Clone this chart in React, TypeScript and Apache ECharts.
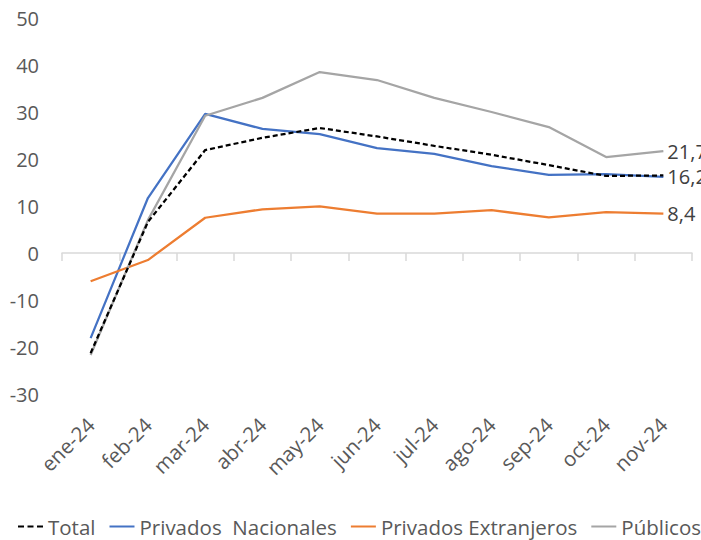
import React, { useEffect, useRef } from "react";
import * as echarts from "echarts";

const categories = ["ene-24", "feb-24", "mar-24", "abr-24", "may-24", "jun-24", "jul-24", "ago-24", "sep-24", "oct-24", "nov-24"];
const total = [-21.3, 6.6, 21.9, 24.5, 26.6, 24.8, 22.8, 20.9, 18.7, 16.4, 16.5];
const privadosNacionales = [-18.1, 11.7, 29.6, 26.4, 25.3, 22.3, 21.1, 18.5, 16.6, 16.8, 16.2];
const privadosExtranjeros = [-6.0, -1.5, 7.5, 9.3, 9.9, 8.4, 8.4, 9.1, 7.6, 8.7, 8.4];
const publicos = [-21.7, 7.0, 29.2, 33.0, 38.5, 36.8, 33.0, 30.0, 26.8, 20.4, 21.7];
const seriesNames = ["Total", "Privados  Nacionales", "Privados Extranjeros", "Públicos"];
const yMin = -30;
const yMax = 50;
const yStep = 10;

const FONT = "Open Sans";
const DASH_ICON = "path://M0,0h6v2h-6z M9.5,0h6v2h-6z M19,0h6v2h-6z";
const LINE_ICON = "path://M0,0h25v2h-25z";

export default function App() {
  const ref = useRef<HTMLDivElement>(null);
  useEffect(() => {
    if (!ref.current) return;
    const chart = echarts.init(ref.current, undefined, { renderer: "svg" });
    const endLabel = (show: boolean) => ({
      show,
      formatter: (p: any) => String(p.value).replace(".", ","),
      distance: 4,
      fontFamily: FONT,
      fontSize: 20,
      color: "#404040",
    });
    const mk = (name: string, data: number[], color: string, dashed: boolean, labelled: boolean) => ({
      name,
      type: "line",
      data,
      showSymbol: false,
      symbol: "none",
      xAxisIndex: 0,
      lineStyle: { color, width: 2.25, type: dashed ? [5, 3] : "solid" },
      itemStyle: { color },
      endLabel: endLabel(labelled),
      z: dashed ? 5 : 3,
    });
    chart.setOption({
      animation: false,
      grid: { left: 62, right: 9, top: 18, bottom: 146, containLabel: false },
      legend: {
        bottom: 3,
        left: 18,
        width: 690,
        padding: 0,
        itemWidth: 25,
        itemHeight: 2,
        itemGap: 14,
        textStyle: { fontFamily: FONT, fontSize: 20.5, color: "#595959" },
        data: [
          { name: seriesNames[0], icon: DASH_ICON },
          { name: seriesNames[1], icon: LINE_ICON },
          { name: seriesNames[2], icon: LINE_ICON },
          { name: seriesNames[3], icon: LINE_ICON },
        ],
      },
      xAxis: [
        {
          type: "category",
          data: categories,
          position: "bottom",
          boundaryGap: true,
          axisLine: { show: true, onZero: true, lineStyle: { color: "#d9d9d9", width: 1.5 } },
          axisTick: { show: true, length: 8, lineStyle: { color: "#d9d9d9", width: 1.5 } },
          axisLabel: { show: false },
          splitLine: { show: false },
        },
        {
          type: "category",
          data: categories,
          position: "bottom",
          boundaryGap: true,
          axisLine: { show: false, onZero: false },
          axisTick: { show: false },
          axisLabel: {
            show: true,
            rotate: 45,
            margin: 27,
            interval: 0,
            fontFamily: FONT,
            fontSize: 20.5,
            color: "#595959",
          },
          splitLine: { show: false },
        },
      ],
      yAxis: {
        type: "value",
        min: yMin,
        max: yMax,
        interval: yStep,
        axisLine: { show: false },
        axisTick: { show: false },
        splitLine: { show: false },
        axisLabel: { margin: 23, fontFamily: FONT, fontSize: 20, color: "#595959" },
      },
      series: [
        mk(seriesNames[0], total, "#000000", true, false),
        mk(seriesNames[1], privadosNacionales, "#4472C4", false, true),
        mk(seriesNames[2], privadosExtranjeros, "#ED7D31", false, true),
        mk(seriesNames[3], publicos, "#A5A5A5", false, true),
      ],
    });
    return () => chart.dispose();
  }, []);
  return <div ref={ref} style={{ width: 701, height: 540, position: "absolute", left: 0, top: 0 }} />;
}
